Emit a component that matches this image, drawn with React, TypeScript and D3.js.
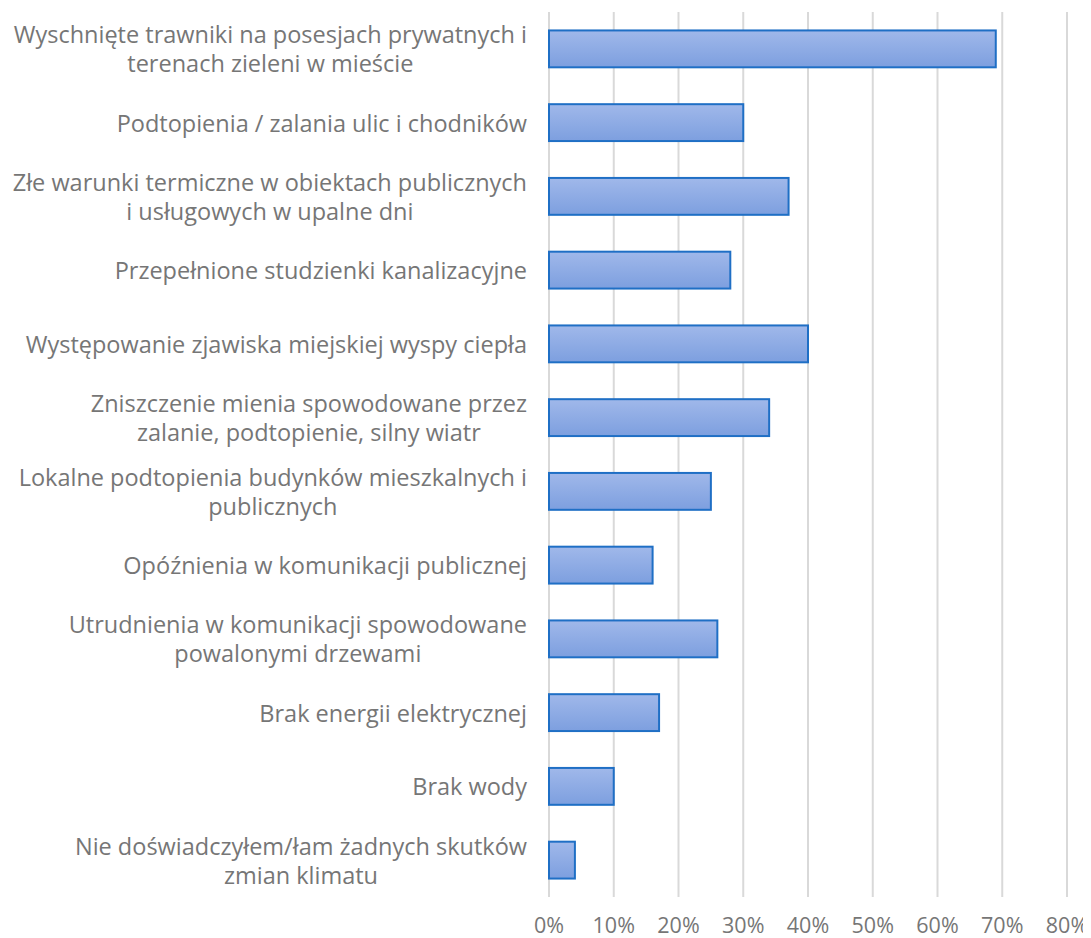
import React, { useEffect, useRef } from "react";
import * as d3 from "d3";

const categoryLines: string[][] = [
  ["Wyschnięte trawniki na posesjach prywatnych i", "terenach zieleni w mieście"],
  ["Podtopienia / zalania ulic i chodników"],
  ["Złe warunki termiczne w obiektach publicznych", "i usługowych w upalne dni"],
  ["Przepełnione studzienki kanalizacyjne"],
  ["Występowanie zjawiska miejskiej wyspy ciepła"],
  ["Zniszczenie mienia spowodowane przez", "zalanie, podtopienie, silny wiatr"],
  ["Lokalne podtopienia budynków mieszkalnych i", "publicznych"],
  ["Opóźnienia w komunikacji publicznej"],
  ["Utrudnienia w komunikacji spowodowane", "powalonymi drzewami"],
  ["Brak energii elektrycznej"],
  ["Brak wody"],
  ["Nie doświadczyłem/łam żadnych skutków", "zmian klimatu"],
];
const values: number[] = [0.69, 0.30, 0.37, 0.28, 0.40, 0.34, 0.25, 0.16, 0.26, 0.17, 0.10, 0.04];
const tickValues: number[] = [0, 0.1, 0.2, 0.3, 0.4, 0.5, 0.6, 0.7, 0.8];

const W = 1091;
const H = 938;
const FONT = "'Open Sans', sans-serif";

export default function App() {
  const ref = useRef<SVGSVGElement>(null);
  useEffect(() => {
    const svg = d3.select(ref.current);
    svg.selectAll("*").remove();
    const x = d3.scaleLinear().domain([0, 0.8]).range([549, 1067]);
    const ids = categoryLines.map((_, i) => String(i));
    const y = d3.scaleBand<string>().domain(ids).range([12, 897]).paddingInner(0.5).paddingOuter(0.25);

    const defs = svg.append("defs");
    const grad = defs.append("linearGradient").attr("id", "barGrad").attr("x1", 0).attr("y1", 0).attr("x2", 0).attr("y2", 1);
    grad.append("stop").attr("offset", "0%").attr("stop-color", "#a0b8ea");
    grad.append("stop").attr("offset", "100%").attr("stop-color", "#7d9fdf");

    svg.append("g").selectAll("line").data(tickValues).join("line")
      .attr("x1", (d) => x(d)).attr("x2", (d) => x(d))
      .attr("y1", 12).attr("y2", 897)
      .attr("stroke", "#d9d9d9").attr("stroke-width", 2);

    svg.append("g").selectAll("text").data(tickValues).join("text")
      .attr("x", (d) => x(d)).attr("y", 933)
      .attr("text-anchor", "middle")
      .attr("font-family", FONT).attr("font-size", 21.5).attr("fill", "#767676")
      .text((d) => d3.format(".0%")(d));

    svg.append("g").selectAll("rect").data(values).join("rect")
      .attr("x", x(0)).attr("y", (_, i) => y(String(i))!)
      .attr("width", (d) => x(d) - x(0)).attr("height", y.bandwidth())
      .attr("fill", "url(#barGrad)").attr("stroke", "#1f6fc5").attr("stroke-width", 2);

    const lineH = 29;
    const g = svg.append("g");
    categoryLines.forEach((lines, i) => {
      const cy = y(String(i))! + y.bandwidth() / 2;
      const tg = g.append("g");
      const texts = lines.map((l, j) =>
        tg.append("text")
          .attr("font-family", FONT).attr("font-size", 23.5).attr("fill", "#767676")
          .attr("y", cy + (j - (lines.length - 1) / 2) * lineH)
          .attr("dominant-baseline", "central")
          .attr("text-anchor", "middle")
          .text(l)
      );
      const widths = texts.map((t) => (t.node() as SVGTextElement).getComputedTextLength());
      const maxW = Math.max(...widths);
      const cx = 527 - maxW / 2;
      texts.forEach((t) => t.attr("x", cx));
    });
  }, []);
  return <svg ref={ref} width={W} height={H} style={{ display: "block", margin: "-8px 0 0 -8px" }} />;
}
